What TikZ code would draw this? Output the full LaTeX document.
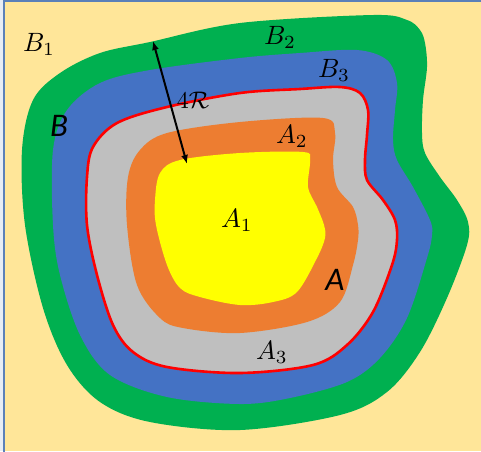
\documentclass[tikz,border=0pt]{standalone}
\usepackage{fontspec}
\newfontfamily\carl{Carlito}
\usetikzlibrary{arrows.meta}
\definecolor{bgtan}{HTML}{FFE699}
\definecolor{gOut}{HTML}{00B050}
\definecolor{bMid}{HTML}{4472C4}
\definecolor{gGray}{HTML}{BFBFBF}
\definecolor{oOr}{HTML}{ED7D31}
\definecolor{yYel}{HTML}{FFFF00}
\definecolor{rRed}{HTML}{FF0000}
\definecolor{frameblue}{HTML}{5B80B8}
\newcommand{\mlab}[1]{\scalebox{2.65}{$#1$}}
\newcommand{\slab}[1]{\scalebox{2.4}{$#1$}}
\tikzset{
  mlabel/.style={inner sep=0pt},
  biglabel/.style={inner sep=0pt, font=\carl\itshape\fontsize{33}{37}\selectfont},
  dblarrow/.style={{Latex[length=9pt,width=7pt]}-{Latex[length=9pt,width=7pt]}, line width=2pt, black}
}
\begin{document}
\begin{tikzpicture}[x=1pt,y=-1pt]
\useasboundingbox (0,0) rectangle (481,451);
\fill[bgtan] (0,0) rectangle (481,451);
\fill[white!85!frameblue] (0,0) rectangle (3,451);
\draw[frameblue, line width=1.5pt] (4,460) -- (4,0.8) -- (490,0.8);
% B2 (green)
\fill[gOut] plot[smooth cycle, tension=0.55] coordinates {
(150,42) (240,23) (373,15) (407,20) (420,30) (425,43) (427,67) (423,100) (422,133)
(425,153) (440,177) (457,200) (468,222) (467,245) (447,298) (420,352) (387,392)
(340,415) (240,430) (150,422) (100,402) (67,365) (43,308) (25,225) (22,150)
(33,100) (60,73) (100,53)};
% B3 (blue)
\fill[bMid] plot[smooth cycle, tension=0.55] coordinates {
(150,70) (240,58) (300,53) (357,50) (387,60) (397,83) (395,110) (393,140) (397,160)
(413,187) (430,220) (432,235) (427,258) (407,318) (380,358) (347,382) (290,398)
(240,404) (167,397) (110,375) (80,335) (60,275) (53,225) (53,150) (67,110) (100,83)};
% A3 (gray) with red boundary A
\filldraw[fill=gGray, draw=rRed, line width=2.6pt] plot[smooth cycle, tension=0.55] coordinates {
(167,107) (240,93) (300,89) (340,87) (360,93) (368,110) (367,135) (365,160) (367,180)
(383,200) (395,220) (397,240) (392,265) (373,312) (347,345) (313,365) (240,373)
(167,367) (133,352) (113,325) (97,275) (87,225) (87,177) (93,147) (117,123)};
% A2 (orange)
\fill[oOr] plot[smooth cycle, tension=0.55] coordinates {
(167,133) (240,122) (323,118) (335,133) (333,160) (337,187) (353,207) (358,225)
(358,240) (353,265) (340,302) (307,322) (240,333) (183,328) (160,318) (137,285)
(127,225) (128,177) (140,150)};
% A1 (yellow)
\fill[yYel] plot[smooth cycle, tension=0.55] coordinates {
(180,160) (240,153) (303,152) (310,160) (308,187) (317,207) (324,225) (325,238)
(317,258) (297,292) (273,302) (240,305) (200,297) (180,288) (167,265) (156,225)
(155,200) (160,173)};
% arrow
\coordinate (arrTop) at (153,41);
\coordinate (arrBot) at (187,164);
\draw[dblarrow] (arrTop) -- (arrBot);
% labels
\node[mlabel] (lB1) at (39,44) {\mlab{B_1}};
\node[mlabel] (lB2) at (280,37) {\mlab{B_2}};
\node[mlabel] (lB3) at (334,70) {\mlab{B_3}};
\node[mlabel] (lA2) at (292,136) {\mlab{A_2}};
\node[mlabel] (lA1) at (237,220) {\mlab{A_1}};
\node[mlabel] (lA3) at (272,352) {\mlab{A_3}};
\node[mlabel] (l4R) at (193,100) {\slab{4\mathcal{R}}};
\node[biglabel] (lB) at (59,126) {B};
\node[biglabel] (lA) at (335,280) {A};
\end{tikzpicture}
\end{document}
